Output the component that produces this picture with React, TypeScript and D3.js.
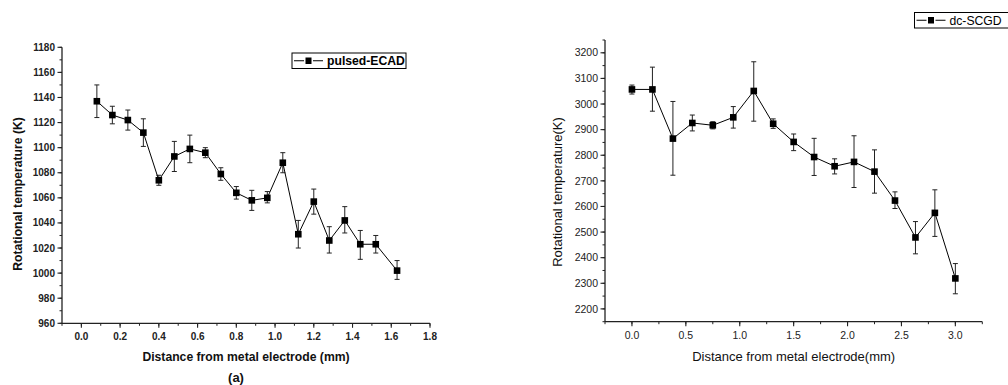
import { useEffect, useRef } from 'react'
import * as d3 from 'd3'

// (a) pulsed-ECAD
const ecadX = [0.08, 0.16, 0.24, 0.32, 0.40, 0.48, 0.56, 0.64, 0.72, 0.80, 0.88, 0.96, 1.04, 1.12, 1.20, 1.28, 1.36, 1.44, 1.52, 1.63]
const ecadY = [1137, 1126, 1122, 1112, 1074, 1093, 1099, 1096, 1079, 1064, 1058, 1060, 1088, 1031, 1057, 1026, 1042, 1023, 1023, 1002]
const ecadHi = [1150, 1133, 1130, 1123, 1078, 1105, 1110, 1100, 1084, 1069, 1066, 1065, 1096, 1042, 1067, 1037, 1053, 1034, 1030, 1010]
const ecadLo = [1124, 1119, 1114, 1101, 1070, 1081, 1088, 1092, 1074, 1059, 1050, 1056, 1080, 1020, 1047, 1016, 1032, 1011, 1016, 995]
const ecadXTicks = [0.0, 0.2, 0.4, 0.6, 0.8, 1.0, 1.2, 1.4, 1.6, 1.8]
const ecadYTicks = [960, 980, 1000, 1020, 1040, 1060, 1080, 1100, 1120, 1140, 1160, 1180]

// dc-SCGD
const scgdX = [0, 0.19, 0.38, 0.56, 0.75, 0.94, 1.13, 1.31, 1.5, 1.69, 1.88, 2.06, 2.25, 2.44, 2.63, 2.81, 3.0]
const scgdY = [3057, 3057, 2865, 2926, 2917, 2948, 3051, 2923, 2852, 2793, 2757, 2774, 2736, 2623, 2479, 2575, 2319]
const scgdHi = [3074, 3144, 3010, 2957, 2931, 2990, 3165, 2942, 2883, 2866, 2786, 2876, 2821, 2657, 2541, 2665, 2377]
const scgdLo = [3039, 2972, 2722, 2895, 2903, 2906, 2933, 2905, 2818, 2721, 2727, 2674, 2652, 2592, 2415, 2483, 2259]
const scgdXTicks = [0.0, 0.5, 1.0, 1.5, 2.0, 2.5, 3.0]
const scgdYTicks = [2200, 2300, 2400, 2500, 2600, 2700, 2800, 2900, 3000, 3100, 3200]

type Panel = {
  xs: number[]; ys: number[]; hi: number[]; lo: number[]
  xDomain: [number, number]; yDomain: [number, number]
  xTicks: number[]; yTicks: number[]; xMinor: number; yMinor: number
  left: number; right: number; top: number; bottom: number
  bold: boolean; tickSize: number; titleSize: number; fmtX: (d: number) => string
  yTitle: string; xTitle: string; yTitleX: number; yTitleY: number; xTitleY: number
  legend: string; legX: number; legY: number; legW: number
}

const FONT = 'Arial, "Liberation Sans", sans-serif'

function drawPanel(root: d3.Selection<SVGSVGElement, unknown, null, undefined>, p: Panel) {
  const g = root.append('g')
  const x = d3.scaleLinear().domain(p.xDomain).range([p.left, p.right])
  const y = d3.scaleLinear().domain(p.yDomain).range([p.bottom, p.top])
  const weight = p.bold ? 'bold' : 'normal'

  // axis lines
  g.append('line').attr('x1', p.left).attr('x2', p.left).attr('y1', p.top).attr('y2', p.bottom)
    .attr('stroke', '#222').attr('stroke-width', 1.3)
  g.append('line').attr('x1', p.left).attr('x2', p.right).attr('y1', p.bottom).attr('y2', p.bottom)
    .attr('stroke', '#222').attr('stroke-width', 1.3)

  // minor ticks
  const xm = d3.range(p.xDomain[0], p.xDomain[1] + 1e-9, p.xMinor)
  g.selectAll('.xminor').data(xm).join('line')
    .attr('x1', d => x(d)).attr('x2', d => x(d)).attr('y1', p.bottom).attr('y2', p.bottom + 2.5)
    .attr('stroke', '#222').attr('stroke-width', 1)
  const ym = d3.range(p.yDomain[0], p.yDomain[1] + 1e-9, p.yMinor)
  g.selectAll('.yminor').data(ym).join('line')
    .attr('x1', p.left - 2.5).attr('x2', p.left).attr('y1', d => y(d)).attr('y2', d => y(d))
    .attr('stroke', '#222').attr('stroke-width', 1)

  // major ticks + labels
  g.selectAll('.xmaj').data(p.xTicks).join('line')
    .attr('x1', d => x(d)).attr('x2', d => x(d)).attr('y1', p.bottom).attr('y2', p.bottom + 4.5)
    .attr('stroke', '#222').attr('stroke-width', 1.1)
  g.selectAll('.xlab').data(p.xTicks).join('text')
    .attr('x', d => x(d)).attr('y', p.bottom + 17)
    .attr('text-anchor', 'middle').attr('font-family', FONT).attr('font-size', p.tickSize)
    .attr('font-weight', weight).attr('fill', '#222')
    .text(p.fmtX)
  g.selectAll('.ymaj').data(p.yTicks).join('line')
    .attr('x1', p.left - 4.5).attr('x2', p.left).attr('y1', d => y(d)).attr('y2', d => y(d))
    .attr('stroke', '#222').attr('stroke-width', 1.1)
  g.selectAll('.ylab').data(p.yTicks).join('text')
    .attr('x', p.left - 7).attr('y', d => y(d)).attr('dy', '0.35em')
    .attr('text-anchor', 'end').attr('font-family', FONT).attr('font-size', p.tickSize)
    .attr('font-weight', weight).attr('fill', '#222')
    .text(d => String(d))

  // titles
  g.append('text')
    .attr('transform', `translate(${p.yTitleX},${p.yTitleY}) rotate(-90)`)
    .attr('text-anchor', 'middle').attr('font-family', FONT).attr('font-size', p.titleSize)
    .attr('font-weight', weight).attr('fill', '#111')
    .text(p.yTitle)
  g.append('text')
    .attr('x', (p.left + p.right) / 2).attr('y', p.xTitleY)
    .attr('text-anchor', 'middle').attr('font-family', FONT).attr('font-size', p.titleSize)
    .attr('font-weight', weight).attr('fill', '#111')
    .text(p.xTitle)

  const idx = d3.range(p.xs.length)

  // error bars
  const eb = g.selectAll('.eb').data(idx).join('g')
  eb.append('line')
    .attr('x1', i => x(p.xs[i])).attr('x2', i => x(p.xs[i]))
    .attr('y1', i => y(p.hi[i])).attr('y2', i => y(p.lo[i]))
    .attr('stroke', '#222').attr('stroke-width', 1)
  eb.append('line')
    .attr('x1', i => x(p.xs[i]) - 2.5).attr('x2', i => x(p.xs[i]) + 2.5)
    .attr('y1', i => y(p.hi[i])).attr('y2', i => y(p.hi[i]))
    .attr('stroke', '#222').attr('stroke-width', 1)
  eb.append('line')
    .attr('x1', i => x(p.xs[i]) - 2.5).attr('x2', i => x(p.xs[i]) + 2.5)
    .attr('y1', i => y(p.lo[i])).attr('y2', i => y(p.lo[i]))
    .attr('stroke', '#222').attr('stroke-width', 1)

  // line
  const line = d3.line<number>().x(i => x(p.xs[i])).y(i => y(p.ys[i]))
  g.append('path').datum(idx).attr('d', line)
    .attr('fill', 'none').attr('stroke', '#000').attr('stroke-width', 1)

  // markers
  g.selectAll('.mk').data(idx).join('rect')
    .attr('x', i => x(p.xs[i]) - 3.3).attr('y', i => y(p.ys[i]) - 3.3)
    .attr('width', 6.6).attr('height', 6.6).attr('fill', '#000')

  // legend
  const lg = g.append('g').attr('transform', `translate(${p.legX},${p.legY})`)
  lg.append('rect').attr('width', p.legW).attr('height', 15.5)
    .attr('fill', '#fff').attr('stroke', '#000').attr('stroke-width', 1)
  lg.append('line').attr('x1', 2).attr('x2', 31).attr('y1', 7.75).attr('y2', 7.75)
    .attr('stroke', '#000').attr('stroke-width', 1)
  lg.append('rect').attr('x', 12).attr('y', 4.5).attr('width', 9).attr('height', 6.5)
    .attr('fill', '#fff')
  lg.append('rect').attr('x', 13.5).attr('y', 4.5).attr('width', 6).attr('height', 6.5)
    .attr('fill', '#000')
  lg.append('text').attr('x', 35).attr('y', 7.75).attr('dy', '0.36em')
    .attr('font-family', FONT).attr('font-size', 12.2).attr('font-weight', weight).attr('fill', '#000')
    .text(p.legend)
}

export default function App() {
  const svgRef = useRef<SVGSVGElement>(null)

  useEffect(() => {
    const svgEl = svgRef.current
    if (!svgEl) return
    const svg = d3.select(svgEl)
    svg.selectAll('*').remove()

    drawPanel(svg, {
      xs: ecadX, ys: ecadY, hi: ecadHi, lo: ecadLo,
      xDomain: [-0.1, 1.8], yDomain: [960, 1180],
      xTicks: ecadXTicks, yTicks: ecadYTicks, xMinor: 0.1, yMinor: 10,
      left: 62, right: 430, top: 47.3, bottom: 323.3,
      bold: true, tickSize: 10, titleSize: 12.2, fmtX: d => d.toFixed(1),
      yTitle: 'Rotational temperature (K)', xTitle: 'Distance from metal electrode (mm)',
      yTitleX: 22, yTitleY: 194, xTitleY: 361,
      legend: 'pulsed-ECAD', legX: 292, legY: 53, legW: 114,
    })

    drawPanel(svg, {
      xs: scgdX, ys: scgdY, hi: scgdHi, lo: scgdLo,
      xDomain: [-0.25, 3.25], yDomain: [2150, 3250],
      xTicks: scgdXTicks, yTicks: scgdYTicks, xMinor: 0.25, yMinor: 50,
      left: 605, right: 982.3, top: 40, bottom: 321.7,
      bold: false, tickSize: 10.5, titleSize: 13, fmtX: d => d.toFixed(1),
      yTitle: 'Rotational temperature(K)', xTitle: 'Distance from metal electrode(mm)',
      yTitleX: 562, yTitleY: 192, xTitleY: 361,
      legend: 'dc-SCGD', legX: 914.5, legY: 12.5, legW: 100,
    })

    svg.append('text')
      .attr('x', 236).attr('y', 382)
      .attr('text-anchor', 'middle').attr('font-family', FONT).attr('font-size', 13)
      .attr('font-weight', 'bold').attr('fill', '#111')
      .text('(a)')
  }, [])

  return (
    <svg
      ref={svgRef}
      width={1008}
      height={385}
      style={{ position: 'absolute', left: 0, top: 0, background: '#fff', display: 'block' }}
    />
  )
}
